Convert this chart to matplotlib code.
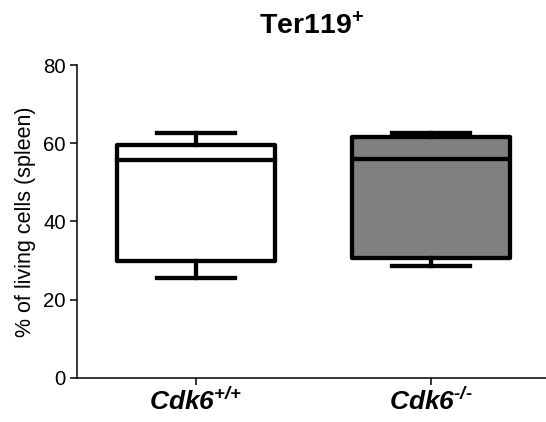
import matplotlib
matplotlib.use("Agg")
import matplotlib.pyplot as plt

# values (box = q1..q3, line = median, caps = min/max)
groups = ["+/+", "-/-"]
whislo = [25.4, 28.6]
q1 = [29.8, 30.7]
med = [55.7, 55.9]
q3 = [59.5, 61.6]
whishi = [62.5, 62.6]
fills = ["white", "#808080"]

plt.rcParams["font.family"] = ["Liberation Sans", "DejaVu Sans"]
plt.rcParams["mathtext.fontset"] = "custom"
plt.rcParams["mathtext.rm"] = "Liberation Sans:italic:bold"
plt.rcParams["mathtext.it"] = "Liberation Sans:italic:bold"
plt.rcParams["mathtext.bf"] = "Liberation Sans:bold"

stats = []
for i in range(len(groups)):
    stats.append({"whislo": whislo[i], "q1": q1[i], "med": med[i],
                  "q3": q3[i], "whishi": whishi[i], "fliers": []})

fig = plt.figure(figsize=(5.46, 4.22), dpi=100)
ax = fig.add_axes([77 / 546, 44.3 / 422, 469 / 546, 312.7 / 422])

lw = 3.1
bp = ax.bxp(stats, positions=[1, 2], widths=0.67, patch_artist=True,
            showfliers=False,
            boxprops=dict(linewidth=lw, edgecolor="black"),
            medianprops=dict(linewidth=lw, color="black", solid_capstyle="butt"),
            whiskerprops=dict(linewidth=lw, color="black"),
            capprops=dict(linewidth=lw, color="black"))
for patch, c in zip(bp["boxes"], fills):
    patch.set_facecolor(c)
    patch.set_joinstyle("round")

ax.set_xlim(0.494, 2.49)
ax.set_ylim(0, 80)
ax.set_yticks([0, 20, 40, 60, 80])
ax.set_xticks([1, 2])
ax.set_xticklabels([r"$\mathrm{Cdk6}^{\text{%s}}$" % g for g in groups], fontsize=19)
ax.tick_params(axis="y", labelsize=14.7, length=5, width=1.1, pad=3)
ax.tick_params(axis="x", length=5, width=1.1, pad=2)
for s in ["top", "right"]:
    ax.spines[s].set_visible(False)
for s in ["left", "bottom"]:
    ax.spines[s].set_linewidth(1.1)

ax.set_ylabel("% of living cells (spleen)", fontsize=15.5, labelpad=5)
ax.set_title(r"Ter119$^{\mathbf{+}}$", fontsize=20.5, fontweight="bold", pad=22)

fig.savefig("out.png", dpi=100)
